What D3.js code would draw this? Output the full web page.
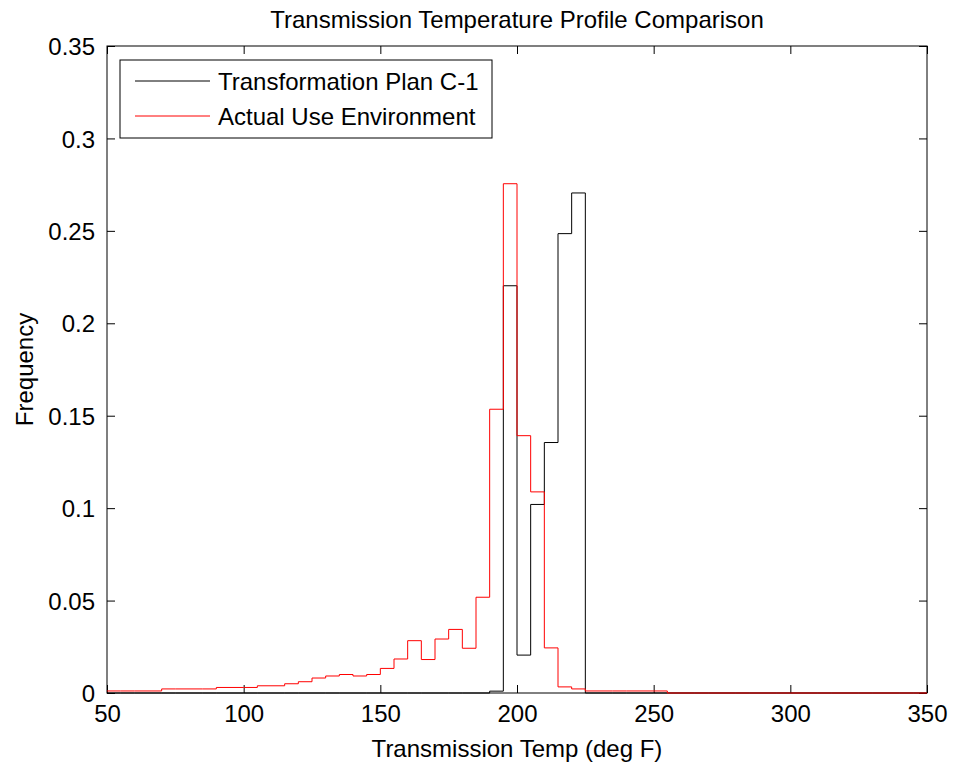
<!DOCTYPE html>
<html>
<head>
<meta charset="utf-8">
<script src="https://cdn.jsdelivr.net/npm/d3@7"></script>
<style>
  body { margin: 0; background: #fff; }
  text { font-family: "Liberation Sans", Arial, sans-serif; fill: #000; }
</style>
</head>
<body>
<div id="chart"></div>
<script>
// histogram bins, 5 deg F wide, left edges from 50 to 345
var firstEdge = 50;
var binWidth = 5;

var planValues = [
   0, 0, 0, 0, 0, 0, 0, 0, 0, 0,            // 50 - 95
   0, 0, 0, 0, 0, 0, 0, 0, 0, 0,            // 100 - 145
   0, 0, 0, 0, 0, 0, 0, 0, 0.001, 0.2203,   // 150 - 195
   0.0205, 0.102, 0.1355, 0.2485, 0.2705, 0, 0, 0, 0, 0,   // 200 - 245
   0, 0, 0, 0, 0, 0, 0, 0, 0, 0,            // 250 - 295
   0, 0, 0, 0, 0, 0, 0, 0, 0, 0             // 300 - 345
];

var actualValues = [
   0.0011, 0.0011, 0.0011, 0.0011, 0.0022, 0.0022, 0.0022, 0.0022, 0.003, 0.003,   // 50 - 95
   0.003, 0.0039, 0.0039, 0.005, 0.0061, 0.0081, 0.0092, 0.010, 0.0092, 0.010,     // 100 - 145
   0.0133, 0.0184, 0.0283, 0.0181, 0.0292, 0.0344, 0.0242, 0.0518, 0.1535, 0.2755, // 150 - 195
   0.1392, 0.1088, 0.0244, 0.0033, 0.0022, 0.0011, 0.0011, 0.0011, 0.0011, 0.0011, // 200 - 245
   0.0011, 0, 0, 0, 0, 0, 0, 0, 0, 0,       // 250 - 295
   0, 0, 0, 0, 0, 0, 0, 0, 0, 0             // 300 - 345
];

var xTicks = [50, 100, 150, 200, 250, 300, 350];
var yTicks = [0, 0.05, 0.1, 0.15, 0.2, 0.25, 0.3, 0.35];
var seriesNames = ["Transformation Plan C-1", "Actual Use Environment"];
var seriesColors = ["#000000", "#ff0000"];

var width = 954, height = 763;
var margin = {top: 46, right: 27, bottom: 70, left: 107};
var innerW = width - margin.left - margin.right;
var innerH = height - margin.top - margin.bottom;

var svg = d3.select("#chart").append("svg")
   .attr("width", width)
   .attr("height", height)
   .style("display", "block");

var g = svg.append("g")
   .attr("transform", "translate(" + margin.left + "," + margin.top + ")");

var x = d3.scaleLinear().domain([50, 350]).range([0, innerW]);
var y = d3.scaleLinear().domain([0, 0.35]).range([innerH, 0]);

// axes with inward ticks on all four sides
var xAxis = g.append("g")
   .attr("transform", "translate(0," + innerH + ")")
   .call(d3.axisBottom(x).tickValues(xTicks).tickSize(-8).tickSizeOuter(0).tickPadding(12));
g.append("g")
   .call(d3.axisTop(x).tickValues(xTicks).tickSize(-8).tickSizeOuter(0).tickFormat(""));
var yAxis = g.append("g")
   .call(d3.axisLeft(y).tickValues(yTicks).tickSize(-8).tickSizeOuter(0).tickPadding(12)
      .tickFormat(function(d) {return String(d)}));
g.append("g")
   .attr("transform", "translate(" + innerW + ",0)")
   .call(d3.axisRight(y).tickValues(yTicks).tickSize(-8).tickSizeOuter(0).tickFormat(""));

g.selectAll(".domain").remove();
g.selectAll(".tick line").attr("stroke", "#000").attr("stroke-width", 1);
g.selectAll(".tick text")
   .style("font-size", "24px")
   .style("font-family", "'Liberation Sans', Arial, sans-serif")
   .attr("fill", "#000");
yAxis.selectAll(".tick text").attr("dy", "0.36em");

g.append("rect")
   .attr("x", 0)
   .attr("y", 0)
   .attr("width", innerW)
   .attr("height", innerH)
   .attr("fill", "none")
   .attr("stroke", "#000")
   .attr("stroke-width", 1);

// stairs
function stairPoints(values) {
   var pts = values.map(function(v, i) {return [firstEdge + i * binWidth, v]});
   pts.push([firstEdge + values.length * binWidth, values[values.length - 1]]);
   return pts;
}

var stairs = d3.line()
   .x(function(d) {return x(d[0])})
   .y(function(d) {return y(d[1])})
   .curve(d3.curveStepAfter);

[planValues, actualValues].forEach(function(vals, i) {
   g.append("path")
      .attr("d", stairs(stairPoints(vals)))
      .attr("fill", "none")
      .attr("stroke", seriesColors[i])
      .attr("stroke-width", 1);
});

// legend
var legend = g.append("g").attr("transform", "translate(13,14)");
legend.append("rect")
   .attr("width", 372)
   .attr("height", 78)
   .attr("fill", "#fff")
   .attr("stroke", "#000")
   .attr("stroke-width", 1);

seriesNames.forEach(function(name, i) {
   var ly = 21 + i * 35;
   legend.append("line")
      .attr("x1", 15).attr("x2", 90)
      .attr("y1", ly).attr("y2", ly)
      .attr("stroke", seriesColors[i])
      .attr("stroke-width", 1);
   legend.append("text")
      .attr("x", 98)
      .attr("y", ly + 8.5)
      .style("font-size", "24px")
      .text(name);
});

// titles
svg.append("text")
   .attr("x", margin.left + innerW / 2)
   .attr("y", 28)
   .attr("text-anchor", "middle")
   .style("font-size", "24px")
   .text("Transmission Temperature Profile Comparison");

svg.append("text")
   .attr("x", margin.left + innerW / 2)
   .attr("y", 757)
   .attr("text-anchor", "middle")
   .style("font-size", "24px")
   .text("Transmission Temp (deg F)");

svg.append("text")
   .attr("transform", "translate(33," + (margin.top + innerH / 2) + ") rotate(-90)")
   .attr("text-anchor", "middle")
   .style("font-size", "24px")
   .text("Frequency");
</script>
</body>
</html>
